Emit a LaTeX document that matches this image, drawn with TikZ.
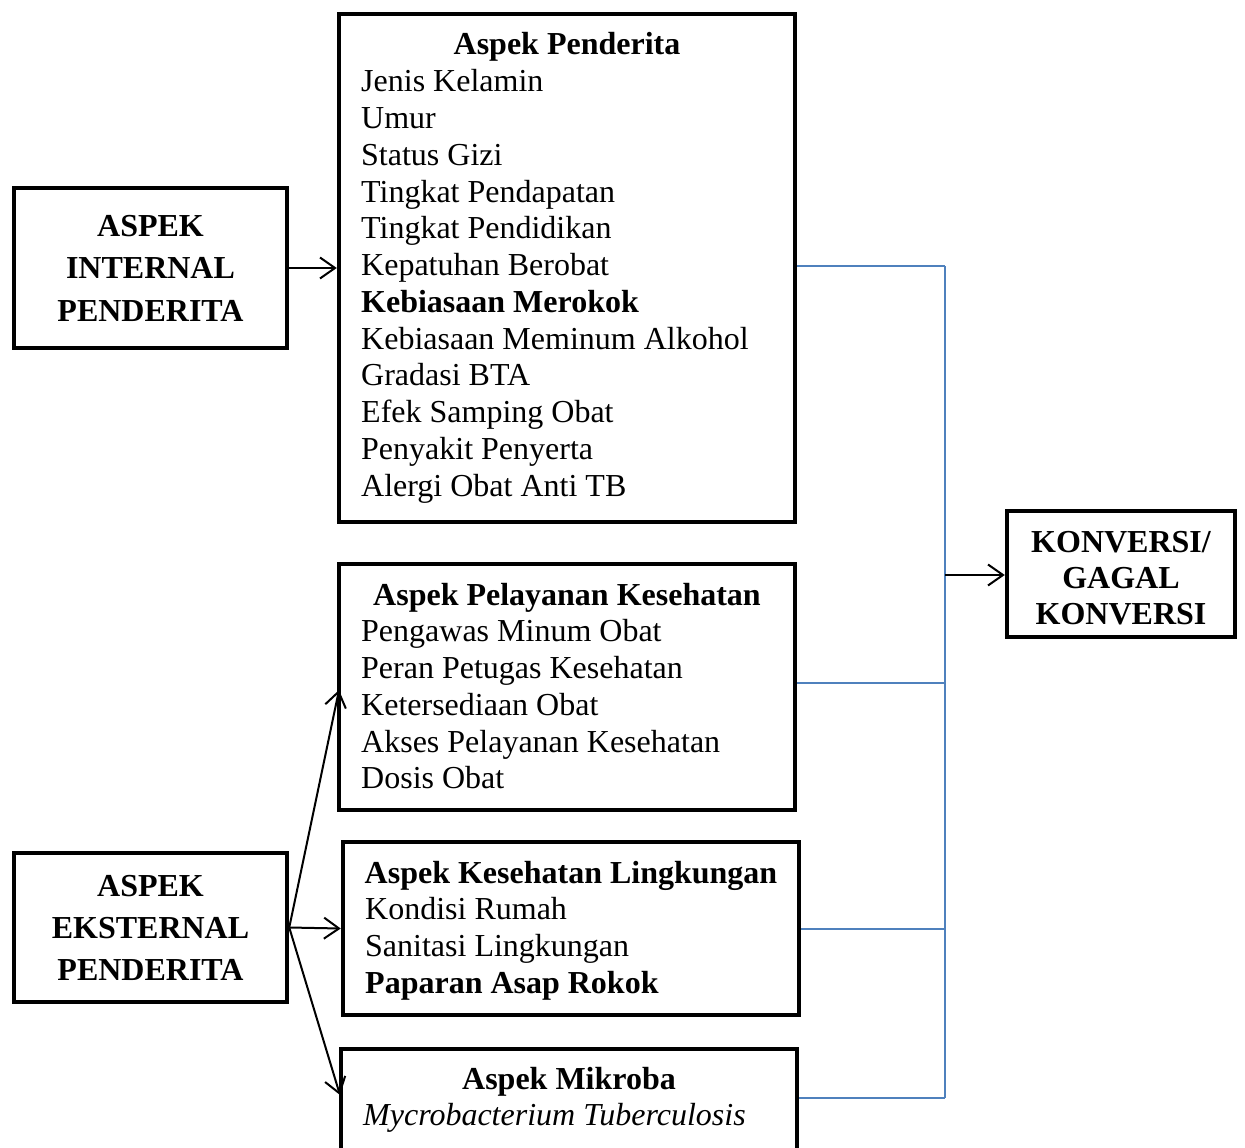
\documentclass[tikz,border=0pt]{standalone}
\usepackage{fontspec}
\setmainfont{Liberation Serif}
\usetikzlibrary{arrows.meta}
\definecolor{wordblue}{HTML}{4F81BD}
\begin{document}
\begin{tikzpicture}[x=1pt,y=-1pt,
  box/.style={draw=black,line width=4.5pt,rectangle,inner sep=0pt},
  txt/.style={inner sep=0pt,anchor=base west,font=\fontsize{32}{36}\selectfont},
  head/.style={inner sep=0pt,anchor=base,font=\fontsize{32}{36}\selectfont\bfseries},
  arr/.style={line width=2pt,-{Straight Barb[length=15pt,width=21pt,line width=2pt]}},
  blue/.style={draw=wordblue,line width=2pt}]
\useasboundingbox (0,0) rectangle (1245,1148);
% boxes
\node[box,minimum width=273pt,minimum height=160pt] (intern) at (150.5,268) {};
\node[box,minimum width=456pt,minimum height=508pt] (pend) at (567,268) {};
\node[box,minimum width=456pt,minimum height=246pt] (pel) at (567,687) {};
\node[box,minimum width=456pt,minimum height=173pt] (ling) at (571,928.5) {};
\node[box,minimum width=456pt,minimum height=151pt] (mik) at (569,1124.5) {};
\node[box,minimum width=273pt,minimum height=149pt] (ekst) at (150.5,927.5) {};
\node[box,minimum width=228pt,minimum height=126pt] (konv) at (1121,574) {};
% internal text
\node[head] (i1) at (150.5,236) {ASPEK};
\node[head] (i2) at (150.5,278.5) {INTERNAL};
\node[head] (i3) at (150.5,321) {PENDERITA};
% external text
\node[head] (e1) at (150.5,896) {ASPEK};
\node[head] (e2) at (150.5,938) {EKSTERNAL};
\node[head] (e3) at (150.5,980) {PENDERITA};
% konversi text
\node[head] (k1) at (1121,552) {KONVERSI/};
\node[head] (k2) at (1121,588) {GAGAL};
\node[head] (k3) at (1121,624) {KONVERSI};
% aspek penderita
\node[head] (p0) at (567,55) {Aspek Penderita};
\foreach \t [count=\i] in {Jenis Kelamin,Umur,Status Gizi,Tingkat Pendapatan,Tingkat Pendidikan,Kepatuhan Berobat,{\bfseries Kebiasaan Merokok},Kebiasaan Meminum Alkohol,Gradasi BTA,Efek Samping Obat,Penyakit Penyerta,Alergi Obat Anti TB}
  \node[txt] (p\i) at (361,55+36.75*\i) {\t};
% pelayanan
\node[head] (s0) at (567,605) {Aspek Pelayanan Kesehatan};
\foreach \t [count=\i] in {Pengawas Minum Obat,Peran Petugas Kesehatan,Ketersediaan Obat,Akses Pelayanan Kesehatan,Dosis Obat}
  \node[txt] (s\i) at (361,605+36.75*\i) {\t};
% lingkungan
\node[head] (l0) at (571,883) {Aspek Kesehatan Lingkungan};
\foreach \t [count=\i] in {Kondisi Rumah,Sanitasi Lingkungan,{\bfseries Paparan Asap Rokok}}
  \node[txt] (l\i) at (365,883+36.75*\i) {\t};
% mikroba
\node[head] (m0) at (569,1089) {Aspek Mikroba};
\node[txt] (m1) at (363,1125) {\itshape Mycrobacterium Tuberculosis};
% arrows
\draw[arr] (intern.east) -- (pend.west);
\coordinate (pt) at (339,690);
\coordinate (mt) at (340,1095);
\draw[arr] (ekst.east) -- (pt);
\draw[arr] (ekst.east) -- (ling.west);
\draw[arr] (ekst.east) -- (mt);
% blue connectors
\coordinate (b1) at (945,266);
\coordinate (b2) at (945,683);
\coordinate (b3) at (945,929);
\coordinate (b4) at (945,1098);
\coordinate (bm) at (945,575);
\draw[blue] (pend.east |- b1) -- (b1);
\draw[blue] (pel.east |- b2) -- (b2);
\draw[blue] (ling.east |- b3) -- (b3);
\draw[blue] (mik.east |- b4) -- (b4);
\draw[blue] (b1) -- (b4);
\draw[arr] (bm) -- (konv.west |- bm);
\end{tikzpicture}
\end{document}
